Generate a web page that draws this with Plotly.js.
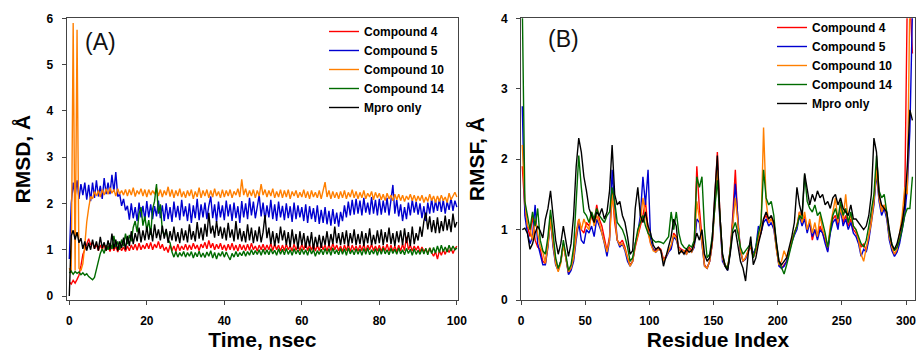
<!DOCTYPE html>
<html><head><meta charset="utf-8">
<script src="https://cdn.plot.ly/plotly-3.0.1.min.js"></script>
<style>html,body{margin:0;padding:0;background:#fff;}#chart{width:917px;height:351px;}</style>
</head><body><div id="chart"></div>
<script>
// ---------- DATA ----------
const seriesNames = ['Compound 4', 'Compound 5', 'Compound 10', 'Compound 14', 'Mpro only'];

// (A) RMSD vs time, sampled every 0.5 ns from 0 to 100 ns
const rmsdTimeStart = 0;
const rmsdTimeStep = 0.5;
const rmsdCompound4 = [
0.30,0.26,0.34,0.28,0.36,0.45,0.65,0.90,1.00,1.10,
1.24,1.10,1.16,1.02,1.12,0.98,1.10,1.00,1.12,0.98,
1.08,0.96,1.10,0.98,1.08,0.95,1.10,0.98,1.06,0.96,
1.08,0.98,1.10,1.00,1.12,0.99,1.14,1.00,1.10,1.02,
1.14,1.02,1.16,1.00,1.12,1.04,1.18,1.02,1.12,0.98,
1.06,0.94,1.10,0.98,1.08,0.96,1.12,0.98,1.08,1.00,
1.12,0.99,1.10,1.00,1.14,1.02,1.10,0.98,1.12,1.04,
1.16,1.02,1.20,1.04,1.14,1.00,1.12,1.02,1.14,1.00,
1.10,0.98,1.12,1.00,1.14,0.99,1.10,0.97,1.12,1.00,
1.10,0.98,1.12,0.99,1.14,1.00,1.08,0.97,1.10,1.00,
1.12,0.99,1.10,1.00,1.14,0.98,1.12,1.00,1.10,0.97,
1.10,0.98,1.12,1.00,1.08,0.97,1.12,0.99,1.10,0.98,
1.12,1.00,1.14,0.98,1.10,0.99,1.12,0.97,1.10,0.98,
1.12,1.00,1.10,0.97,1.12,0.98,1.14,1.00,1.10,0.98,
1.08,0.96,1.10,0.98,1.12,0.96,1.10,0.99,1.08,0.97,
1.10,0.98,1.12,0.96,1.10,1.00,1.12,0.98,1.08,0.97,
1.10,0.96,1.08,0.98,1.12,0.97,1.10,0.96,1.08,0.95,
1.10,0.97,1.12,0.98,1.28,1.00,1.10,0.97,1.08,0.99,
1.08,0.95,1.06,0.96,1.02,0.92,1.04,0.94,0.86,0.96,
0.80,0.98,0.88,1.00,0.90,1.02,0.94,1.04,0.92,1.02,
1.08];
const rmsdCompound5 = [
0.80,2.00,2.45,2.15,2.50,2.10,2.42,2.18,2.45,2.08,
2.40,2.05,2.45,2.12,2.50,2.15,2.38,2.10,2.55,2.20,
2.45,2.20,2.62,2.25,2.68,2.15,2.20,1.95,2.10,1.85,
1.95,1.65,2.00,1.68,1.92,1.62,2.02,1.70,1.95,1.64,
2.05,1.70,1.98,1.66,1.94,1.72,2.06,1.68,1.96,1.62,
2.00,1.66,1.92,1.60,2.04,1.70,1.95,1.64,2.08,1.72,
1.94,1.62,2.00,1.58,1.96,1.68,2.10,1.64,1.98,1.70,
2.02,1.66,1.95,2.15,1.68,1.98,1.60,2.04,1.70,1.96,
1.64,2.06,1.72,1.98,1.62,2.02,1.68,1.94,1.58,2.05,
1.70,2.00,1.66,2.12,1.74,2.04,1.68,1.98,2.18,1.72,
2.02,1.64,1.96,1.70,2.08,1.66,1.98,1.62,2.04,1.70,
1.95,1.64,2.00,1.68,1.94,1.60,2.02,1.66,1.96,1.70,
1.92,1.62,1.98,1.58,1.94,1.66,1.90,1.60,1.96,1.56,
1.86,1.58,1.92,1.55,1.84,1.52,1.88,1.56,1.80,1.50,
1.82,1.62,1.96,1.70,2.04,1.74,2.08,1.76,2.10,1.78,
2.06,1.74,2.12,1.80,2.02,1.76,2.14,1.78,2.08,1.74,
2.10,1.76,2.06,1.80,2.12,1.74,2.04,2.40,1.78,2.08,
1.72,1.98,1.62,1.92,1.66,2.02,1.74,2.08,1.80,2.04,
1.76,2.00,1.68,1.94,1.62,2.02,1.78,2.10,1.80,2.06,
1.84,2.10,1.82,2.08,1.78,2.04,1.86,2.12,1.84,2.06,
1.92];
const rmsdCompound10 = [
0.60,0.50,5.90,0.55,5.75,0.60,0.55,0.70,1.10,1.60,
1.90,2.15,2.10,2.26,2.16,2.28,2.14,2.30,2.18,2.32,
2.20,2.34,2.22,2.30,2.16,2.32,2.20,2.28,2.18,2.30,
2.16,2.30,2.18,2.34,2.15,2.28,2.20,2.32,2.16,2.30,
2.14,2.30,2.18,2.28,2.20,2.34,2.16,2.30,2.14,2.28,
2.18,2.36,2.15,2.30,2.12,2.28,2.16,2.32,2.14,2.26,
2.12,2.28,2.16,2.30,2.10,2.26,2.14,2.34,2.12,2.28,
2.16,2.30,2.12,2.28,2.14,2.32,2.16,2.26,2.12,2.30,
2.14,2.28,2.16,2.30,2.12,2.26,2.18,2.32,2.14,2.52,
2.18,2.32,2.14,2.28,2.16,2.30,2.12,2.28,2.16,2.42,
2.18,2.30,2.14,2.28,2.16,2.32,2.12,2.26,2.14,2.30,
2.12,2.28,2.14,2.30,2.10,2.26,2.16,2.28,2.12,2.24,
2.14,2.30,2.12,2.26,2.10,2.28,2.14,2.24,2.12,2.28,
2.10,2.26,2.46,2.14,2.28,2.10,2.26,2.12,2.24,2.10,
2.26,2.12,2.28,2.10,2.24,2.14,2.30,2.12,2.26,2.10,
2.24,2.12,2.28,2.10,2.22,2.14,2.26,2.08,2.24,2.12,
2.22,2.08,2.20,2.06,2.22,2.10,2.18,2.06,2.20,2.08,
2.20,2.06,2.18,2.04,2.16,2.08,2.20,2.06,2.18,2.04,
2.16,2.06,2.18,2.02,2.14,2.04,2.20,2.06,2.16,2.02,
2.16,2.04,2.18,2.06,2.14,2.02,2.22,2.08,2.18,2.24,
2.14];
const rmsdCompound14 = [
0.50,0.54,0.47,0.53,0.49,0.52,0.46,0.50,0.45,0.48,
0.42,0.38,0.35,0.40,0.55,0.75,0.92,1.02,0.92,1.10,
1.00,1.14,1.02,1.30,1.06,1.18,1.00,1.22,1.08,1.35,
1.12,1.32,1.18,1.48,1.62,1.38,1.78,1.92,1.52,1.72,
1.42,1.64,1.32,1.88,2.05,2.42,1.78,1.98,1.42,1.30,
1.42,1.22,1.15,0.95,0.84,0.96,0.84,0.94,0.86,0.96,
0.84,0.94,0.86,0.96,0.82,0.94,0.85,0.97,0.84,0.93,
0.83,0.95,0.86,0.98,0.82,0.94,0.80,0.93,0.86,0.96,
0.84,0.95,0.86,0.78,0.92,0.84,0.96,0.85,0.94,0.87,
0.97,0.86,0.96,0.88,1.00,0.89,0.98,0.90,1.00,0.88,
1.01,0.90,1.00,0.89,1.02,0.91,0.99,0.88,1.02,0.90,
1.01,0.89,1.03,0.90,1.00,0.88,1.02,0.91,1.00,0.89,
1.02,0.90,1.00,0.88,1.03,0.91,1.00,0.86,0.98,0.90,
1.01,0.89,1.03,0.90,1.02,0.88,1.04,0.91,1.00,0.89,
1.03,0.90,1.02,0.88,1.04,0.91,1.00,0.89,1.02,0.90,
1.01,0.88,1.03,0.90,1.04,0.89,1.00,0.91,1.02,0.88,
1.03,0.90,1.04,0.91,1.00,0.89,1.03,0.92,1.01,0.90,
1.04,0.91,1.00,0.89,1.03,0.92,1.01,0.88,1.02,0.90,
0.99,0.90,1.02,0.91,1.03,0.89,1.04,0.92,1.05,0.93,
1.08,0.94,1.10,0.96,1.06,0.95,1.10,0.97,1.08,1.00,
1.04];
const rmsdMproOnly = [
0.00,1.30,1.42,1.22,1.38,1.15,1.25,1.02,1.18,0.98,
1.15,1.00,1.22,1.02,1.18,0.98,1.28,1.04,1.16,0.98,
1.20,1.00,1.35,1.02,1.22,0.98,1.18,1.04,1.26,1.00,
1.30,1.08,1.40,1.12,1.36,1.18,1.48,1.16,1.42,1.20,
1.50,1.22,1.46,1.18,1.55,1.25,1.44,1.20,1.52,1.24,
1.45,1.15,1.40,1.20,1.50,1.18,1.38,1.14,1.46,1.20,
1.42,1.16,1.55,1.22,1.40,1.18,1.60,1.24,1.48,1.20,
1.56,1.28,1.80,1.35,1.52,1.26,1.62,1.30,1.50,1.24,
1.48,1.20,1.58,1.26,1.44,1.18,1.62,1.22,1.46,1.18,
1.40,1.16,1.55,1.20,1.48,1.14,1.42,1.18,1.50,1.16,
1.38,1.75,1.25,1.48,1.12,1.40,1.08,1.36,1.14,1.50,
1.20,1.42,1.10,1.38,1.06,1.44,1.12,1.34,1.02,1.40,
1.10,1.36,1.04,1.30,1.08,1.38,1.00,1.28,1.06,1.32,
1.04,1.30,1.10,1.40,1.08,1.34,1.12,1.50,1.14,1.36,
1.10,1.38,1.12,1.42,1.08,1.36,1.14,1.44,1.10,1.34,
1.12,1.40,1.08,1.36,1.14,1.46,1.10,1.32,1.12,1.42,
1.14,1.44,1.10,1.38,1.16,1.48,1.12,1.36,1.08,1.40,
1.16,1.42,1.10,1.46,1.14,1.38,1.08,1.50,1.12,1.36,
1.20,1.50,1.28,1.62,1.80,1.44,1.72,1.38,1.64,1.36,
1.70,1.36,1.62,1.40,1.74,1.42,1.66,1.38,1.78,1.48,
1.60];

// (B) RMSF vs residue index, sampled every 2 residues from residue 1 to 305
const rmsfResidueStart = 1;
const rmsfResidueStep = 2;
const rmsfCompound4 = [
1.90,1.30,1.05,0.90,1.20,0.85,0.75,0.72,0.55,0.52,
0.80,1.20,0.80,0.55,0.42,0.55,0.80,0.60,0.38,0.45,
0.60,0.95,1.15,1.00,0.95,1.10,1.05,1.20,1.10,1.35,
1.15,1.05,0.85,0.70,0.90,1.55,1.10,0.85,0.80,0.85,
0.75,0.60,0.50,0.55,0.75,0.90,1.05,1.20,1.40,1.00,
0.80,0.72,0.70,0.75,0.72,0.58,0.62,0.70,0.75,0.95,
0.90,0.75,0.72,0.70,0.68,0.75,0.70,0.80,1.90,1.30,
0.85,0.50,0.45,0.55,0.80,1.40,2.10,1.20,0.60,0.50,
0.45,0.70,1.20,1.85,1.10,0.70,0.55,0.60,0.70,0.75,
0.60,0.70,0.85,0.95,1.15,1.20,1.10,1.15,1.10,0.75,
0.50,0.45,0.50,0.55,0.70,0.85,0.95,1.05,1.25,1.10,
1.20,1.00,1.10,0.85,1.00,0.90,1.05,0.95,0.85,0.70,
1.00,1.15,1.20,1.05,1.35,1.10,1.20,1.05,1.15,1.00,
0.95,0.85,0.75,0.80,0.70,0.90,1.15,1.40,1.90,1.50,
1.25,1.35,1.20,0.90,0.75,0.65,0.70,0.85,1.05,1.40,
4.30,4.30,3.50];
const rmsfCompound5 = [
2.75,1.20,0.95,0.80,0.90,1.35,0.80,0.65,0.50,0.50,
0.75,1.15,0.75,0.50,0.42,0.55,0.80,0.60,0.36,0.42,
0.55,0.85,1.10,0.85,0.80,1.00,0.95,1.05,0.90,1.15,
1.05,0.95,0.80,0.62,0.85,1.85,1.30,0.85,0.75,0.80,
0.70,0.55,0.48,0.55,0.80,0.95,1.20,1.75,1.35,1.85,
0.85,0.72,0.68,0.72,0.70,0.55,0.60,0.68,0.72,0.90,
0.85,0.72,0.70,0.68,0.65,0.72,0.68,0.75,1.15,1.10,
0.80,0.48,0.45,0.55,0.80,1.40,1.90,1.10,0.55,0.48,
0.42,0.68,1.10,1.65,1.10,0.68,0.55,0.58,0.68,0.80,
0.65,0.75,1.05,0.95,1.10,1.15,1.05,1.10,1.00,0.70,
0.48,0.45,0.48,0.55,0.70,0.82,0.92,1.00,1.20,1.05,
1.15,0.95,1.10,0.90,1.00,0.85,1.00,0.95,0.80,0.68,
0.95,1.10,1.15,1.00,1.30,1.05,1.15,1.00,1.10,0.95,
0.90,0.80,0.62,0.72,0.68,0.85,1.10,1.35,1.80,1.40,
1.20,1.30,1.15,0.85,0.70,0.62,0.68,0.80,1.00,1.20,
1.60,2.40,4.10];
const rmsfCompound10 = [
2.20,1.40,1.05,1.00,0.85,1.15,0.95,0.75,0.68,0.52,
0.78,1.15,0.80,0.52,0.40,0.52,0.78,0.58,0.40,0.45,
0.60,0.90,1.15,1.00,1.15,1.05,1.00,1.25,1.05,1.20,
1.10,0.95,0.80,0.68,0.85,1.50,1.20,0.85,0.78,0.80,
0.72,0.58,0.48,0.55,0.78,0.92,1.10,1.45,1.20,0.95,
0.80,0.70,0.68,0.72,0.70,0.55,0.62,0.70,0.78,0.92,
0.88,0.72,0.68,0.70,0.65,0.72,0.68,0.78,1.40,1.15,
0.80,0.48,0.45,0.55,0.80,1.35,1.85,1.15,0.60,0.48,
0.45,0.70,1.05,1.45,1.10,0.70,0.55,0.60,0.70,0.78,
0.62,0.72,0.90,1.00,2.45,1.40,1.10,1.15,1.05,0.72,
0.50,0.55,0.70,0.60,0.72,0.85,0.95,1.05,1.25,1.10,
1.25,1.00,1.15,0.95,1.10,0.90,1.20,1.00,0.90,0.75,
1.05,1.25,1.45,1.10,1.30,1.15,1.50,1.10,1.20,1.05,
1.00,0.85,0.65,0.55,0.75,0.90,1.10,1.40,1.85,1.45,
1.25,1.35,1.20,0.90,0.75,0.65,0.72,0.95,1.20,1.60,
1.50,4.30,4.30];
const rmsfCompound14 = [
4.20,1.40,1.20,1.00,1.25,1.05,1.30,0.85,0.70,0.65,
0.90,1.28,0.95,0.60,0.45,0.55,0.85,0.65,0.42,0.50,
0.75,1.40,2.05,1.60,1.25,1.20,1.10,1.25,1.15,1.30,
1.20,1.15,1.10,1.20,1.25,1.60,1.40,1.10,1.05,1.00,
0.90,0.75,0.55,0.60,0.80,1.00,1.10,1.20,1.05,0.95,
0.90,0.85,0.82,0.83,0.82,0.80,0.85,0.90,1.25,1.00,
1.25,0.95,0.80,0.75,0.72,0.78,0.75,0.85,1.75,1.60,
1.75,1.00,0.60,0.65,0.90,1.30,1.70,1.20,0.65,0.50,
0.45,0.70,1.00,1.10,0.95,0.75,0.65,0.70,0.75,0.80,
0.60,0.75,0.95,1.10,1.85,1.45,1.35,1.40,1.20,0.80,
0.55,0.45,0.37,0.50,0.65,0.80,0.95,1.05,1.20,1.15,
1.78,1.40,1.30,1.25,1.35,1.20,1.25,1.10,0.95,0.75,
1.00,1.20,1.30,1.15,1.40,1.20,1.30,1.10,1.25,1.05,
1.00,0.90,0.80,0.75,0.85,1.05,1.30,1.50,2.05,1.55,
1.45,1.50,1.25,0.95,0.80,0.70,0.75,0.85,1.00,1.20,
1.30,1.30,1.75];
const rmsfMproOnly = [
1.00,1.02,0.95,0.72,0.80,0.95,1.05,0.98,0.88,1.15,
1.30,1.55,1.20,0.85,0.65,0.80,1.05,0.82,0.62,0.80,
1.20,1.90,2.30,2.10,1.75,1.55,1.30,1.20,1.10,1.25,
1.20,1.30,1.15,1.25,1.55,2.20,1.50,1.35,1.40,1.20,
1.10,0.90,0.65,0.70,1.30,1.60,1.20,1.10,1.25,1.05,
0.95,0.78,0.72,0.75,0.70,0.48,0.62,0.75,0.90,1.15,
1.05,0.65,0.70,0.65,0.72,0.68,0.70,0.80,0.95,0.85,
1.00,0.65,0.55,0.60,0.85,1.50,2.05,1.20,0.65,0.48,
0.42,0.65,0.95,1.00,0.80,0.55,0.45,0.27,0.65,0.90,
0.50,0.60,0.80,0.95,1.15,1.25,1.15,1.20,1.10,0.80,
0.55,0.50,0.55,0.60,0.75,0.90,1.10,1.60,1.35,1.20,
1.80,1.55,1.35,1.50,1.40,1.55,1.45,1.50,1.35,1.40,
1.30,1.45,1.50,1.35,1.45,1.30,1.25,1.20,1.35,1.15,
1.15,1.10,1.05,1.00,1.05,1.20,1.50,2.30,2.10,1.50,
1.35,1.30,1.25,1.00,0.78,0.72,0.80,0.95,1.10,1.35,
1.90,2.70,2.55];

// ---------- STYLE ----------
const FONT = 'Arial, "Liberation Sans", sans-serif';
const seriesColors = ['#ff0000', '#0000d0', '#ff7f00', '#006b00', '#000000'];
const W = 917, H = 351;

const rmsdData = [rmsdCompound4, rmsdCompound5, rmsdCompound10, rmsdCompound14, rmsdMproOnly];
const rmsfData = [rmsfCompound4, rmsfCompound5, rmsfCompound10, rmsfCompound14, rmsfMproOnly];

const traces = [];
rmsdData.forEach((ys, i) => traces.push({
  type: 'scatter', mode: 'lines', name: seriesNames[i],
  x0: rmsdTimeStart, dx: rmsdTimeStep, y: ys,
  xaxis: 'x', yaxis: 'y', legend: 'legend',
  line: {color: seriesColors[i], width: 1.4}
}));
rmsfData.forEach((ys, i) => traces.push({
  type: 'scatter', mode: 'lines', name: seriesNames[i],
  x0: rmsfResidueStart, dx: rmsfResidueStep, y: ys,
  xaxis: 'x2', yaxis: 'y2', legend: 'legend2',
  line: {color: seriesColors[i], width: 1.4}
}));

const tickFont = {family: FONT, size: 12, color: '#000', weight: 'bold'};
const titleFont = {family: FONT, size: 21, color: '#000', weight: 'bold'};
const axisCommon = {
  showgrid: false, zeroline: false, showline: true, linecolor: '#444', linewidth: 1,
  mirror: true, ticks: 'outside', ticklen: 4, tickcolor: '#444', tickwidth: 1,
  tickfont: tickFont, automargin: false, ticklabelstandoff: 6
};
const px = v => v / W, py = v => 1 - v / H;
const legendFont = {family: FONT, size: 12, color: '#000', weight: 'bold'};

const layout = {
  width: W, height: H, margin: {l: 0, r: 0, t: 0, b: 0},
  paper_bgcolor: '#fff', plot_bgcolor: '#fff', showlegend: true,
  xaxis: Object.assign({}, axisCommon, {
    domain: [px(66.7), px(458)], range: [-0.67, 100.3], tickvals: [0, 20, 40, 60, 80, 100],
    title: {text: 'Time, nsec', font: titleFont, standoff: 4}, anchor: 'y'
  }),
  yaxis: Object.assign({}, axisCommon, {
    domain: [py(300), py(18.3)], range: [-0.086, 6.0], tickvals: [0, 1, 2, 3, 4, 5, 6],
    title: {text: 'RMSD, Å', font: titleFont, standoff: 10}, anchor: 'x'
  }),
  xaxis2: Object.assign({}, axisCommon, {
    domain: [px(521), px(915)], range: [0, 307], tickvals: [0, 50, 100, 150, 200, 250, 300],
    title: {text: 'Residue Index', font: titleFont, standoff: 4}, anchor: 'y2'
  }),
  yaxis2: Object.assign({}, axisCommon, {
    domain: [py(300), py(18.3)], range: [0, 4], tickvals: [0, 1, 2, 3, 4],
    title: {text: 'RMSF, Å', font: titleFont, standoff: 10}, anchor: 'x2'
  }),
  legend: {
    x: px(324), y: py(17), xanchor: 'left', yanchor: 'top', bgcolor: 'rgba(0,0,0,0)',
    font: legendFont, tracegroupgap: 0, itemwidth: 30
  },
  legend2: {
    x: px(772), y: py(13), xanchor: 'left', yanchor: 'top', bgcolor: 'rgba(0,0,0,0)',
    font: legendFont, tracegroupgap: 0, itemwidth: 30
  },
  annotations: [
    {text: '(A)', xref: 'paper', yref: 'paper', x: px(100), y: py(42), showarrow: false,
     xanchor: 'center', yanchor: 'middle', font: {family: FONT, size: 23, color: '#111'}},
    {text: '(B)', xref: 'paper', yref: 'paper', x: px(563), y: py(39), showarrow: false,
     xanchor: 'center', yanchor: 'middle', font: {family: FONT, size: 23, color: '#111'}}
  ]
};

Plotly.newPlot('chart', traces, layout, {displayModeBar: false, staticPlot: true});
</script>
</body></html>
